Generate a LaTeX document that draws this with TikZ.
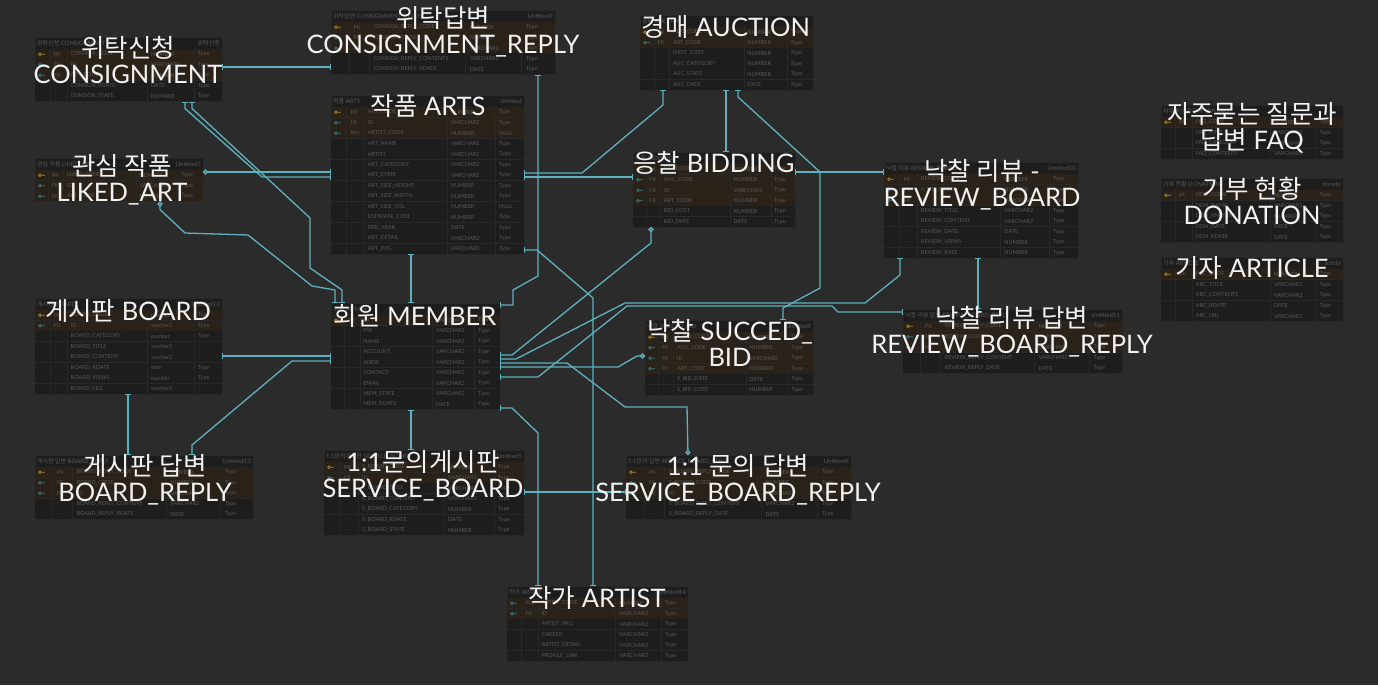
\documentclass[tikz,border=0pt]{standalone}
\usepackage{fontspec}
\setmainfont{Lato}
\newfontfamily\kr{Noto Sans CJK KR}
\usetikzlibrary{arrows.meta}

% colours
\definecolor{bgc}{HTML}{2B2B2B}
\definecolor{tblfill}{HTML}{1D1D1D}
\definecolor{tblline}{HTML}{282828}
\definecolor{cellc}{HTML}{585858}
\definecolor{wirec}{HTML}{5EB1BE}
\definecolor{lblc}{HTML}{F2F2F2}
\definecolor{rowP}{HTML}{2A2119}
\colorlet{rowp}{rowP}
\colorlet{rowF}{rowP}
\colorlet{rowK}{rowP}
\colorlet{rowN}{tblfill}
\definecolor{icoP}{HTML}{A88A28}
\colorlet{icop}{icoP}
\definecolor{icoF}{HTML}{357F85}
\colorlet{icoK}{icoF}
\colorlet{icoN}{tblfill}
\def\lblP{PK}\def\lblp{pk}\def\lblF{FK}\def\lblK{Key}\def\lblN{-}

\tikzset{
  tbl/.style={draw=tblline, fill=tblfill, anchor=north west, inner sep=0pt, outer sep=0pt},
  hdrtext/.style={text=cellc, font=\fontsize{6}{6}\selectfont, inner sep=0pt},
  celltext/.style={text=cellc, font=\fontsize{5.5}{6}\selectfont, inner sep=0pt, anchor=west},
  rowline/.style={draw=tblline, line width=0.4pt},
  lbl/.style={text=lblc, font=\fontsize{25.5}{26}\selectfont, align=center, inner sep=0pt},
  wire/.style={draw=wirec, line width=1.3pt, {Bar[width=6pt]}-{Bar[width=6pt]}},
  owire/.style={wire, {Circle[open,length=5pt,width=5pt]}-{Bar[width=6pt]}},
  endo/.style={wire, {Bar[width=6pt]}-{Circle[open,length=5pt,width=5pt]}},
}

% #1 name, #2 x, #3 y, #4 width, #5 rows, #6 title, #7 tag, #8 fields
\newcommand{\erdtable}[8]{%
  \node[tbl, minimum width=#4pt, minimum height={12pt+#5*10.5pt}] (#1) at (#2,#3) {};
  \node[hdrtext, anchor=west] at ([xshift=2pt,yshift=-6pt]#1.north west) {#6};
  \node[hdrtext, anchor=east] at ([xshift=-2pt,yshift=-6pt]#1.north east) {#7};
  \foreach \k/\f/\t/\u [count=\i] in {#8} {
    \pgfmathsetmacro{\ry}{#3+12+(\i-1)*10.5}
    \fill[fill=row\k] (#2,\ry) rectangle ++(#4,10.5);
    \draw[rowline] (#2,\ry+10.5) -- ++(#4,0);
    \draw[draw=ico\k, line width=0.7pt] (#2+5,\ry+5.25) circle (1.4pt) (#2+6.4,\ry+5.25) -- ++(3.5,0);
    \node[celltext] at (#2+0.1*#4,\ry+5.25) {\csname lbl\k\endcsname};
    \node[celltext] at (#2+0.19*#4,\ry+5.25) {\f};
    \node[celltext] at (#2+0.62*#4,\ry+5.25) {\t};
    \node[celltext] at (#2+0.87*#4,\ry+5.25) {\u};
  }
  \foreach \c in {0.08,0.17,0.6,0.85}
    \draw[rowline] (#2+\c*#4,#3+12) -- ++(0,#5*10.5);
}

\begin{document}
\begin{tikzpicture}[x=1pt,y=-1pt]
\useasboundingbox (0,0) rectangle (1378,685);
\fill[bgc] (0,0) rectangle (1378,685);

% Tables
\erdtable{consign}{35}{37}{187}{5}{{\kr 위탁신청} CONSIGNMENT}{{\kr 위탁신청}}{P/CONSIGN\_CODE/NUMBER/Type,
  F/ID/VARCHAR2/Type, F/ART\_CODE/NUMBER/Type, N/CONSIGN\_RDATE/DATE/Type, N/CONSIGN\_STATE/NUMBER/Type}
\erdtable{creply}{331}{10}{224}{5}{{\kr 위탁답변} CONSIGNMENT\_REPLY}{Untitled9}{P/CONSIGN\_REPLY\_CODE/NUMBER/Type,
  F/CONSIGN\_CODE/NUMBER/Type, F/ID/VARCHAR2/Type, N/CONSIGN\_REPLY\_CONTENTS/VARCHAR2/Type,
  N/CONSIGN\_REPLY\_RDATE/DATE/Type}
\erdtable{arts}{331}{95}{193}{14}{{\kr 작품} ARTS}{Untitled}{P/ART\_CODE/NUMBER/Type,
  F/ID/VARCHAR2/Type, K/ARTIST\_CODE/NUMBER/NULL, N/ART\_NAME/VARCHAR2/Type, N/ARTIST/VARCHAR2/Type,
  N/ART\_CATEGORY/VARCHAR2/Type, N/ART\_STATE/VARCHAR2/Type, N/ART\_SIZE\_HEIGHT/NUMBER/Type,
  N/ART\_SIZE\_WIDTH/NUMBER/Type, N/ART\_SIZE\_VOL/NUMBER/NULL, N/ESTIMATE\_COST/NUMBER/Type,
  N/PRD\_YEAR/DATE/Type, N/ART\_DETAIL/VARCHAR2/Type, N/ART\_IMG/VARCHAR2/Type}
\erdtable{auction}{640}{15}{173}{6}{{\kr 경매} AUCTION}{}{P/AUC\_CODE/NUMBER/Type,
  F/ART\_CODE/NUMBER/Type, N/FIRST\_COST/NUMBER/Type, N/AUC\_CATEGORY/NUMBER/Type,
  N/AUC\_STATE/NUMBER/Type, N/AUC\_DATE/DATE/Type}
\erdtable{bidding}{633}{152}{162}{6}{{\kr 응찰} BIDDING}{}{P/BID\_CODE/NUMBER/Type,
  F/AUC\_CODE/NUMBER/Type, F/ID/VARCHAR2/Type, F/ART\_CODE/NUMBER/Type,
  N/BID\_COST/NUMBER/Type, N/BID\_DATE/DATE/Type}
\erdtable{review}{884}{162}{194}{8}{{\kr 낙찰 리뷰} REVIEW\_BOARD}{Untitled10}{P/REVIEW\_CODE/NUMBER/Type,
  F/S\_BID\_CODE/NUMBER/Type, F/ID/VARCHAR2/Type, N/REVIEW\_TITLE/VARCHAR2/Type,
  N/REVIEW\_CONTENT/VARCHAR2/Type, N/REVIEW\_DATE/DATE/Type, N/REVIEW\_VIEWS/NUMBER/Type,
  N/REVIEW\_RATE/NUMBER/Type}
\erdtable{rreply}{903}{309}{219}{5}{{\kr 낙찰 리뷰 답변} REVIEW\_BOARD\_REPLY}{Untitled11}{P/REVIEW\_REPLY\_CODE/NUMBER/Type,
  F/REVIEW\_CODE/NUMBER/Type, F/ID/VARCHAR2/Type, N/REVIEW\_REPLY\_CONTENT/VARCHAR2/Type,
  N/REVIEW\_REPLY\_DATE/DATE/Type}
\erdtable{faq}{1161}{105}{182}{4}{{\kr 자주묻는 질문과 답변} FAQ}{}{p/FAQ\_CODE/NUMBER/Type,
  N/FAQ\_TITLE/VARCHAR2/Type, N/FAQ\_CATEGORY/VARCHAR2/Type, N/FAQ\_CONTENTS/VARCHAR2/Type}
\erdtable{donation}{1161}{178}{182}{5}{{\kr 기부 현황} DONATION}{donate}{p/DON\_CODE/NUMBER/Type,
  N/DON\_NAME/VARCHAR2/Type, N/DON\_AMOUNT/NUMBER/Type, N/DON\_DATE/DATE/Type, N/DON\_RDATE/DATE/Type}
\erdtable{article}{1161}{257}{182}{5}{{\kr 기자} ARTICLE}{article}{p/ARC\_CODE/NUMBER/Type,
  N/ARC\_TITLE/VARCHAR2/Type, N/ARC\_CONTENTS/VARCHAR2/Type, N/ARC\_RDATE/DATE/Type, N/ARC\_URL/VARCHAR2/Type}
\erdtable{liked}{35}{158}{168}{3}{{\kr 관심 작품} LIKED\_ART}{Untitled7}{P/LIKED\_CODE/NUMBER/Type,
  F/ID/VARCHAR2/Type, F/ART\_CODE/NUMBER/Type}
\erdtable{member}{331}{303}{169}{9}{{\kr 회원} MEMBER}{}{P/ID/VARCHAR2/Type,
  N/PW/VARCHAR2/Type, N/NAME/VARCHAR2/Type, N/ACCOUNT/VARCHAR2/Type, N/ADDR/VARCHAR2/Type,
  N/CONTACT/VARCHAR2/Type, N/EMAIL/VARCHAR2/Type, N/MEM\_STATE/VARCHAR2/Type, N/MEM\_RDATE/DATE/Type}
\erdtable{board}{35}{298}{187}{8}{{\kr 게시판} BOARD}{Untitled12}{P/BOARD\_CODE/number/Type,
  F/ID/varchar2/Type, N/BOARD\_CATEGORY/number/Type, N/BOARD\_TITLE/varchar2/-,
  N/BOARD\_CONTENT/varchar2/-, N/BOARD\_RDATE/date/Type, N/BOARD\_VIEWS/number/Type, N/BOARD\_FILE/varchar2/-}
\erdtable{breply}{35}{455}{218}{5}{{\kr 게시판 답변} BOARD\_REPLY}{Untitled13}{P/BOARD\_REPLY\_CODE/NUMBER/Type,
  F/BOARD\_CODE/NUMBER/Type, F/ID/VARCHAR2/Type, N/BOARD\_REPLY\_CONTENT/VARCHAR2/Type,
  N/BOARD\_REPLY\_RDATE/DATE/Type}
\erdtable{sboard}{324}{450}{200}{7}{1:1{\kr 문의게시판} SERVICE\_BOARD}{Untitled5}{P/S\_BOARD\_CODE/NUMBER/Type,
  F/ID/VARCHAR2/Type, N/S\_BOARD\_TITLE/VARCHAR2/Type, N/S\_BOARD\_CONTENT/VARCHAR2/Type,
  N/S\_BOARD\_CATEGORY/NUMBER/Type, N/S\_BOARD\_RDATE/DATE/Type, N/S\_BOARD\_STATE/NUMBER/Type}
\erdtable{sbreply}{626}{455}{225}{5}{1:1{\kr 문의 답변} SERVICE\_BOARD\_REPLY}{Untitled6}{P/S\_BOARD\_REPLY\_CODE/NUMBER/Type,
  F/S\_BOARD\_CODE/NUMBER/Type, F/ID/VARCHAR2/Type, N/S\_BOARD\_REPLY\_CONTENT/VARCHAR2/Type,
  N/S\_BOARD\_REPLY\_DATE/DATE/Type}
\erdtable{succed}{645}{320}{168}{6}{{\kr 낙찰} SUCCED\_BID}{Untitled8}{P/S\_BID\_CODE/NUMBER/Type,
  F/AUC\_CODE/NUMBER/Type, F/ID/VARCHAR2/Type, F/ART\_CODE/NUMBER/Type,
  N/S\_BID\_DATE/DATE/Type, N/S\_BID\_COST/NUMBER/Type}
\erdtable{artist}{507}{586}{181}{6}{{\kr 작가} ARTIST}{Untitled14}{K/ARTIST\_CODE/NUMBER/Type,
  F/ID/VARCHAR2/Type, N/ARTIST\_IMG/VARCHAR2/Type, N/CAREER/VARCHAR2/Type,
  N/ARTIST\_DETAIL/VARCHAR2/Type, N/PROFILE\_LINK/VARCHAR2/Type}

% Consignment links
\draw[wire] (consign.east |- 0,67) -- (creply.west |- 0,67);
\draw[wire] (consign.south -| 185,0) -- ++(0,7) -- (262,177) -- (arts.west |- 0,177);
\draw[wire] (consign.south -| 192,0) -- ++(0,7) -- (310,218) -- (310,268) -- (342,290) -- (member.north -| 342,0);
\draw[wire] (creply.south -| 538,0) -- (538,276) -- (513,290) -- (513,305) -- (member.east |- 0,305);

% Liked art links
\draw[owire] (liked.east |- 0,172) -- (arts.west |- 0,172);
\draw[owire] (liked.south -| 160,0) -- ++(0,8) -- (185,233) -- (248,235) -- (312,286) -- (335,290) -- (member.north -| 335,0);

% Arts links
\draw[wire] (arts.south -| 411,0) -- (member.north -| 411,0);
\draw[wire] (arts.east |- 0,173) -- (582,173) -- (663,105) -- (auction.south -| 663,0);
\draw[wire] (arts.east |- 0,177) -- (bidding.west |- 0,177);
\draw[wire] (arts.east |- 0,250) -- (537,250) -- (593,298) -- (artist.north -| 593,0);

% Auction and review links
\draw[wire] (auction.south -| 726,0) -- (bidding.north -| 726,0);
\draw[wire] (auction.south -| 738,0) -- ++(0,7) -- (820,172) -- (820,288) -- (783,308) -- (succed.north -| 783,0);
\draw[wire] (bidding.east |- 0,172) -- (review.west |- 0,172);
\draw[wire] (review.south -| 978,0) -- (rreply.north -| 978,0);

% Member links
\draw[endo] (member.east |- 0,355) -- (512,355) -- (651,243) -- (bidding.south -| 651,0);
\draw[wire] (member.east |- 0,359) -- (516,359) -- (625,303) -- (865,303) -- (900,275) -- (review.south -| 900,0);
\draw[endo] (member.east |- 0,363) -- (567,363) -- (625,407) -- (687,407) -- (sbreply.north -| 688,0);
\draw[endo] (member.east |- 0,367) -- (618,367) -- (637,356) -- (succed.west |- 0,356);
\draw[wire] (member.east |- 0,377) -- (538,377) -- (627,306) -- (832,306) -- (838,312) -- (rreply.west |- 0,312);
\draw[wire] (member.east |- 0,408) -- (512,408) -- (538,433) -- (artist.north -| 538,0);
\draw[wire] (member.west |- 0,356) -- (board.east |- 0,356);
\draw[wire] (member.west |- 0,361) -- (292,361) -- (192,445) -- (breply.north -| 192,0);
\draw[wire] (member.south -| 411,0) -- (sboard.north -| 411,0);

% Board links
\draw[wire] (board.south -| 128,0) -- (breply.north -| 128,0);
\draw[wire] (sboard.east |- 0,492) -- (sbreply.west |- 0,492);

% Labels
\node[lbl] (consign-t) at (128,60) {{\kr 위탁신청}\\CONSIGNMENT};
\node[lbl] (creply-t) at (443,32) {{\kr 위탁답변}\\CONSIGNMENT\_REPLY};
\node[lbl] (arts-t) at (428,106) {{\kr 작품} ARTS};
\node[lbl] (auction-t) at (726,27) {{\kr 경매} AUCTION};
\node[lbl] (bidding-t) at (714,163) {{\kr 응찰} BIDDING};
\node[lbl] (review-t) at (982,185) {{\kr 낙찰 리뷰} -\\REVIEW\_BOARD};
\node[lbl] (rreply-t) at (1012,332) {{\kr 낙찰 리뷰 답변}\\REVIEW\_BOARD\_REPLY};
\node[lbl] (faq-t) at (1252,128) {{\kr 자주묻는 질문과}\\{\kr 답변} FAQ};
\node[lbl] (donation-t) at (1252,201) {{\kr 기부 현황}\\DONATION};
\node[lbl] (article-t) at (1252,268) {{\kr 기자} ARTICLE};
\node[lbl] (liked-t) at (122,180) {{\kr 관심 작품}\\LIKED\_ART};
\node[lbl] (member-t) at (415,316) {{\kr 회원} MEMBER};
\node[lbl] (board-t) at (128,311) {{\kr 게시판} BOARD};
\node[lbl] (breply-t) at (145,480) {{\kr 게시판 답변}\\BOARD\_REPLY};
\node[lbl] (sboard-t) at (423,476) {1:1{\kr 문의게시판}\\SERVICE\_BOARD};
\node[lbl] (sbreply-t) at (738,480) {1:1 {\kr 문의 답변}\\SERVICE\_BOARD\_REPLY};
\node[lbl] (succed-t) at (730,343) {{\kr 낙찰} SUCCED\_\\BID};
\node[lbl] (artist-t) at (597,598) {{\kr 작가} ARTIST};
\end{tikzpicture}
\end{document}
